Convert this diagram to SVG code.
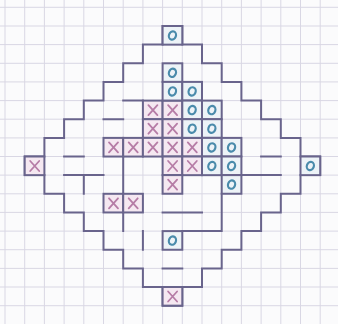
<svg xmlns="http://www.w3.org/2000/svg" width="338" height="324" viewBox="0 0 338 324">
<style>
.bg{fill:#fbfbfc}
.grid{stroke:#d9d7e4;stroke-width:1;fill:none}
.wall{stroke:#69648c;stroke-width:2;fill:none;stroke-linejoin:miter;stroke-linecap:square}
.xf{fill:#f5e8f1;stroke:#69648c;stroke-width:2}
.of{fill:#edf3f7;stroke:#69648c;stroke-width:2}
.xm{stroke:#b67ca6;stroke-width:1.8;fill:none;stroke-linecap:round}
.om{stroke:#4a8bab;stroke-width:2.2;fill:none}
</style>
<defs>
<g id="xcell"><rect width="19.7" height="18.65" class="xf"/><path class="xm" d="M5.5 4.5 L14.5 14.5 M14.5 4.5 L5.5 14.5"/></g>
<g id="ocell"><rect width="19.7" height="18.65" class="of"/><ellipse class="om" cx="9.85" cy="9.5" rx="3.5" ry="4.2" transform="rotate(20 9.85 9.5)"/></g>
</defs>
<rect class="bg" width="338" height="324"/>
<g id="grid">
<path class="grid" d="M5 0V324M24.7 0V324M44.4 0V324M64.1 0V324M83.8 0V324M103.5 0V324M123.2 0V324M142.9 0V324M162.6 0V324M182.3 0V324M202 0V324M221.7 0V324M241.4 0V324M261.1 0V324M280.8 0V324M300.5 0V324M320.2 0V324"/>
<path class="grid" d="M0 7.3H338M0 26H338M0 44.6H338M0 63.3H338M0 81.9H338M0 100.6H338M0 119.2H338M0 137.9H338M0 156.5H338M0 175.1H338M0 193.8H338M0 212.4H338M0 231.1H338M0 249.7H338M0 268.4H338M0 287H338M0 305.7H338"/>
</g>
<g id="outline">
<path class="wall" d="M162.6 26H182.3V44.6H202V63.3H221.7V81.9H241.4V100.6H261.1V119.2H280.8V137.9H300.5V156.5H320.2V175.1H300.5V193.8H280.8V212.4H261.1V231.1H241.4V249.7H221.7V268.4H202V287H182.3V305.7H162.6V287H142.9V268.4H123.2V249.7H103.5V231.1H83.8V212.4H64.1V193.8H44.4V175.1H24.7V156.5H44.4V137.9H64.1V119.2H83.8V100.6H103.5V81.9H123.2V63.3H142.9V44.6H162.6Z"/>
</g>
<g id="walls">
<path class="wall" d="M123.2 100.6H142.9M103.5 119.2H123.2M64.1 156.5H83.8M64.1 175.1H103.5M83.8 175.1V193.8M123.2 156.5V231.1M162.6 212.4H202M142.9 231.1V249.7M162.6 268.4H182.3M221.7 193.8V231.1M182.3 231.1H221.7M182.3 175.1H280.8M261.1 156.5H280.8"/>
</g>
<g id="x-cells">
<use href="#xcell" x="142.9" y="100.6"/>
<use href="#xcell" x="162.6" y="100.6"/>
<use href="#xcell" x="142.9" y="119.2"/>
<use href="#xcell" x="162.6" y="119.2"/>
<use href="#xcell" x="103.5" y="137.9"/>
<use href="#xcell" x="123.2" y="137.9"/>
<use href="#xcell" x="142.9" y="137.9"/>
<use href="#xcell" x="162.6" y="137.9"/>
<use href="#xcell" x="182.3" y="137.9"/>
<use href="#xcell" x="162.6" y="156.5"/>
<use href="#xcell" x="182.3" y="156.5"/>
<use href="#xcell" x="162.6" y="175.1"/>
<use href="#xcell" x="103.5" y="193.8"/>
<use href="#xcell" x="123.2" y="193.8"/>
<use href="#xcell" x="162.6" y="287"/>
<use href="#xcell" x="24.7" y="156.5"/>
</g>
<g id="o-cells">
<use href="#ocell" x="162.6" y="26"/>
<use href="#ocell" x="162.6" y="63.3"/>
<use href="#ocell" x="162.6" y="81.9"/>
<use href="#ocell" x="182.3" y="81.9"/>
<use href="#ocell" x="182.3" y="100.6"/>
<use href="#ocell" x="202" y="100.6"/>
<use href="#ocell" x="182.3" y="119.2"/>
<use href="#ocell" x="202" y="119.2"/>
<use href="#ocell" x="202" y="137.9"/>
<use href="#ocell" x="221.7" y="137.9"/>
<use href="#ocell" x="202" y="156.5"/>
<use href="#ocell" x="221.7" y="156.5"/>
<use href="#ocell" x="221.7" y="175.1"/>
<use href="#ocell" x="162.6" y="231.1"/>
<use href="#ocell" x="300.5" y="156.5"/>
</g>
</svg>
